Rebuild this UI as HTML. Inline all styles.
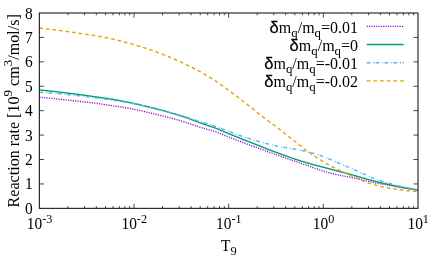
<!DOCTYPE html>
<html><head><meta charset="utf-8"><title>plot</title>
<style>html,body{margin:0;padding:0;background:#fff;width:436px;height:262px;overflow:hidden;font-family:"Liberation Serif",serif}</style>
</head><body>
<svg width="436" height="262" viewBox="0 0 436 262" style="position:absolute;left:0;top:0">
<rect width="436" height="262" fill="#fff"/>
<path d="M39.35 183.93h4.6 M418.0 183.93h-4.6 M39.35 159.51h4.6 M418.0 159.51h-4.6 M39.35 135.09h4.6 M418.0 135.09h-4.6 M39.35 110.67h4.6 M418.0 110.67h-4.6 M39.35 86.26h4.6 M418.0 86.26h-4.6 M39.35 61.84h4.6 M418.0 61.84h-4.6 M39.35 37.42h4.6 M418.0 37.42h-4.6 M67.85 208.35v-2.3 M67.85 13.0v2.3 M84.52 208.35v-2.3 M84.52 13.0v2.3 M96.34 208.35v-2.3 M96.34 13.0v2.3 M105.52 208.35v-2.3 M105.52 13.0v2.3 M113.01 208.35v-2.3 M113.01 13.0v2.3 M119.35 208.35v-2.3 M119.35 13.0v2.3 M124.84 208.35v-2.3 M124.84 13.0v2.3 M129.68 208.35v-2.3 M129.68 13.0v2.3 M134.01 208.35v-4.6 M134.01 13.0v4.6 M162.51 208.35v-2.3 M162.51 13.0v2.3 M179.18 208.35v-2.3 M179.18 13.0v2.3 M191.01 208.35v-2.3 M191.01 13.0v2.3 M200.18 208.35v-2.3 M200.18 13.0v2.3 M207.67 208.35v-2.3 M207.67 13.0v2.3 M214.01 208.35v-2.3 M214.01 13.0v2.3 M219.50 208.35v-2.3 M219.50 13.0v2.3 M224.34 208.35v-2.3 M224.34 13.0v2.3 M228.67 208.35v-4.6 M228.67 13.0v4.6 M257.17 208.35v-2.3 M257.17 13.0v2.3 M273.84 208.35v-2.3 M273.84 13.0v2.3 M285.67 208.35v-2.3 M285.67 13.0v2.3 M294.84 208.35v-2.3 M294.84 13.0v2.3 M302.34 208.35v-2.3 M302.34 13.0v2.3 M308.67 208.35v-2.3 M308.67 13.0v2.3 M314.16 208.35v-2.3 M314.16 13.0v2.3 M319.01 208.35v-2.3 M319.01 13.0v2.3 M323.34 208.35v-4.6 M323.34 13.0v4.6 M351.83 208.35v-2.3 M351.83 13.0v2.3 M368.50 208.35v-2.3 M368.50 13.0v2.3 M380.33 208.35v-2.3 M380.33 13.0v2.3 M389.50 208.35v-2.3 M389.50 13.0v2.3 M397.00 208.35v-2.3 M397.00 13.0v2.3 M403.34 208.35v-2.3 M403.34 13.0v2.3 M408.83 208.35v-2.3 M408.83 13.0v2.3 M413.67 208.35v-2.3 M413.67 13.0v2.3" stroke="#1a1a1a" stroke-width="0.8" fill="none"/>
<path d="M39.35 97.18 L39.82 97.22 L40.30 97.27 L40.44 97.28 M41.74 97.41 L42.19 97.45 L42.67 97.50 L42.83 97.52 M44.13 97.64 L44.56 97.69 L45.04 97.73 L45.22 97.75 M46.52 97.88 L46.93 97.92 L47.41 97.97 L47.61 97.99 M48.90 98.12 L49.30 98.16 L49.78 98.21 L50.00 98.23 M51.29 98.36 L51.67 98.40 L52.15 98.45 L52.39 98.48 M53.68 98.61 L54.04 98.65 L54.51 98.70 L54.77 98.72 M56.07 98.86 L56.41 98.89 L56.88 98.94 L57.16 98.97 M58.45 99.11 L58.78 99.14 L59.25 99.19 L59.55 99.22 M60.84 99.36 L61.15 99.39 L61.62 99.44 L61.93 99.48 M63.23 99.62 L63.52 99.65 L63.99 99.70 L64.32 99.73 M65.61 99.87 L65.89 99.90 L66.36 99.95 L66.71 99.99 M68.00 100.13 L68.26 100.16 L68.73 100.21 L69.09 100.25 M70.38 100.39 L70.63 100.42 L71.10 100.47 L71.48 100.51 M72.77 100.65 L73.00 100.68 L73.47 100.73 L73.86 100.77 M75.15 100.92 L75.37 100.94 L75.84 100.99 L76.25 101.04 M77.54 101.18 L77.74 101.20 L78.21 101.26 L78.63 101.30 M79.93 101.45 L80.11 101.47 L80.58 101.52 L81.02 101.57 M82.31 101.71 L82.48 101.73 L82.95 101.78 L83.40 101.84 M84.70 101.98 L84.84 102.00 L85.32 102.05 L85.79 102.10 M87.08 102.25 L87.21 102.26 L87.69 102.32 L88.16 102.37 L88.17 102.37 M89.47 102.52 L89.58 102.53 L90.06 102.59 L90.53 102.65 L90.56 102.65 M91.85 102.80 L91.95 102.81 L92.43 102.87 L92.90 102.93 L92.94 102.93 M94.23 103.09 L94.32 103.10 L94.80 103.16 L95.27 103.22 L95.32 103.23 M96.61 103.40 L96.69 103.41 L97.17 103.47 L97.64 103.53 L97.70 103.54 M98.99 103.72 L99.06 103.73 L99.54 103.80 L100.01 103.87 L100.08 103.88 M101.36 104.07 L101.43 104.08 L101.91 104.15 L102.38 104.22 L102.45 104.23 M103.74 104.43 L103.80 104.44 L104.27 104.51 L104.75 104.59 L104.82 104.60 M106.11 104.79 L106.17 104.80 L106.64 104.87 L107.12 104.94 L107.20 104.95 M108.48 105.14 L108.54 105.15 L109.01 105.22 L109.49 105.29 L109.57 105.30 M110.86 105.49 L110.91 105.50 L111.38 105.57 L111.86 105.64 L111.95 105.65 M113.23 105.84 L113.28 105.85 L113.75 105.91 L114.23 105.98 L114.32 106.00 M115.61 106.19 L115.65 106.19 L116.12 106.26 L116.60 106.33 L116.70 106.35 M117.98 106.54 L118.02 106.54 L118.49 106.61 L118.97 106.69 L119.07 106.70 M120.35 106.90 L120.39 106.90 L120.86 106.97 L121.34 107.05 L121.44 107.06 M122.73 107.27 L122.76 107.27 L123.23 107.35 L123.71 107.42 L123.81 107.44 M125.10 107.65 L125.13 107.65 L125.60 107.73 L126.07 107.81 L126.18 107.83 M127.46 108.05 L127.50 108.06 L127.97 108.14 L128.44 108.22 L128.55 108.24 M129.82 108.47 L129.87 108.48 L130.34 108.56 L130.81 108.65 L130.91 108.67 M132.18 108.91 L132.24 108.92 L132.71 109.01 L133.18 109.10 L133.26 109.12 M134.54 109.38 L134.60 109.39 L135.08 109.49 L135.55 109.58 L135.62 109.60 M136.89 109.86 L136.97 109.88 L137.45 109.98 L137.92 110.08 L137.96 110.09 M139.23 110.37 L139.34 110.39 L139.82 110.49 L140.29 110.60 L140.31 110.60 M141.58 110.89 L141.71 110.92 L142.19 111.02 L142.65 111.13 M143.92 111.42 L144.08 111.46 L144.56 111.57 L144.99 111.67 M146.26 111.96 L146.45 112.01 L146.93 112.12 L147.33 112.22 M148.59 112.52 L148.82 112.57 L149.30 112.69 L149.66 112.77 M150.92 113.08 L151.19 113.14 L151.67 113.25 L151.99 113.33 M153.26 113.64 L153.56 113.71 L154.03 113.83 L154.33 113.90 M155.59 114.20 L155.93 114.28 L156.40 114.40 L156.66 114.46 M157.92 114.77 L158.30 114.86 L158.77 114.97 L158.99 115.03 M160.26 115.34 L160.67 115.44 L161.14 115.55 L161.32 115.60 M162.58 115.91 L163.04 116.03 L163.51 116.14 L163.65 116.18 M164.91 116.50 L164.93 116.50 L165.41 116.62 L165.88 116.74 L165.98 116.77 M167.24 117.09 L167.30 117.11 L167.78 117.23 L168.25 117.35 L168.30 117.37 M169.56 117.69 L169.67 117.72 L170.15 117.85 L170.62 117.97 L170.62 117.97 M171.88 118.31 L172.04 118.35 L172.52 118.48 L172.94 118.60 M174.20 118.94 L174.41 119.00 L174.89 119.13 L175.26 119.23 M176.51 119.58 L176.78 119.66 L177.26 119.79 L177.57 119.88 M178.82 120.24 L179.15 120.34 L179.63 120.47 L179.87 120.55 M181.12 120.91 L181.52 121.04 L182.00 121.18 L182.17 121.24 M183.41 121.63 L183.42 121.63 L183.89 121.78 L184.36 121.93 L184.46 121.96 M185.69 122.37 L185.79 122.40 L186.26 122.56 L186.73 122.72 L186.74 122.72 M187.97 123.14 L188.16 123.20 L188.63 123.37 L189.01 123.50 M190.24 123.92 L190.53 124.02 L191.00 124.19 L191.28 124.28 M192.50 124.71 L192.90 124.84 L193.37 125.01 L193.54 125.07 M194.77 125.49 L194.79 125.49 L195.26 125.65 L195.74 125.81 L195.82 125.84 M197.05 126.25 L197.16 126.29 L197.63 126.44 L198.09 126.59 M199.33 126.99 L199.53 127.05 L200.00 127.20 L200.38 127.32 M201.63 127.69 L201.90 127.77 L202.37 127.91 L202.68 128.00 M203.93 128.35 L204.27 128.45 L204.74 128.58 L204.99 128.65 M206.25 128.99 L206.64 129.10 L207.11 129.23 L207.31 129.28 M208.56 129.63 L209.01 129.75 L209.48 129.89 L209.62 129.93 M210.87 130.28 L210.90 130.29 L211.38 130.43 L211.85 130.57 L211.93 130.59 M213.17 130.97 L213.27 131.00 L213.75 131.15 L214.22 131.30 M215.45 131.71 L215.64 131.78 L216.12 131.94 L216.49 132.08 M217.71 132.54 L218.01 132.66 L218.49 132.85 L218.73 132.95 M219.92 133.45 L220.38 133.65 L220.86 133.85 L220.93 133.89 M222.13 134.41 L222.28 134.47 L222.75 134.68 L223.14 134.84 M224.33 135.35 L224.65 135.48 L225.12 135.67 L225.35 135.76 M226.56 136.24 L227.02 136.42 L227.49 136.61 L227.58 136.65 M228.79 137.12 L228.91 137.17 L229.39 137.35 L229.82 137.52 M231.03 137.99 L231.28 138.09 L231.76 138.27 L232.06 138.39 M233.27 138.86 L233.65 139.00 L234.12 139.19 L234.30 139.25 M235.51 139.71 L235.55 139.73 L236.02 139.91 L236.49 140.09 L236.54 140.11 M237.75 140.57 L237.92 140.63 L238.39 140.81 L238.78 140.96 M240.00 141.42 L240.29 141.52 L240.76 141.70 L241.03 141.80 M242.25 142.26 L242.66 142.41 L243.13 142.59 L243.28 142.65 M244.49 143.10 L244.55 143.12 L245.02 143.30 L245.50 143.48 L245.53 143.49 M246.74 143.94 L246.92 144.01 L247.39 144.18 L247.77 144.32 M248.99 144.78 L249.29 144.89 L249.76 145.06 L250.02 145.16 M251.24 145.61 L251.66 145.77 L252.13 145.94 L252.27 146.00 M253.49 146.45 L253.56 146.47 L254.03 146.64 L254.50 146.82 L254.52 146.83 M255.74 147.28 L255.92 147.34 L256.40 147.52 L256.78 147.66 M258.00 148.10 L258.29 148.21 L258.77 148.39 L259.03 148.48 M260.25 148.93 L260.66 149.08 L261.14 149.25 L261.28 149.30 M262.51 149.75 L262.56 149.77 L263.03 149.94 L263.51 150.11 L263.54 150.12 M264.76 150.57 L264.93 150.63 L265.40 150.80 L265.80 150.94 M267.02 151.38 L267.30 151.48 L267.77 151.65 L268.05 151.76 M269.28 152.20 L269.67 152.34 L270.14 152.51 L270.31 152.57 M271.54 153.01 L271.56 153.02 L272.04 153.19 L272.51 153.35 L272.57 153.38 M273.80 153.81 L273.93 153.86 L274.41 154.03 L274.83 154.18 M276.06 154.62 L276.30 154.71 L276.78 154.88 L277.09 154.99 M278.32 155.42 L278.67 155.55 L279.15 155.72 L279.36 155.79 M280.58 156.23 L281.04 156.39 L281.52 156.56 L281.62 156.60 M282.84 157.03 L282.94 157.06 L283.41 157.23 L283.88 157.40 M285.11 157.83 L285.31 157.90 L285.78 158.07 L286.14 158.19 M287.37 158.62 L287.68 158.73 L288.15 158.90 L288.41 158.99 M289.63 159.42 L290.05 159.56 L290.52 159.73 L290.67 159.78 M291.90 160.21 L291.94 160.22 L292.42 160.39 L292.89 160.55 L292.94 160.57 M294.17 161.00 L294.31 161.05 L294.78 161.21 L295.21 161.36 M296.44 161.78 L296.68 161.87 L297.15 162.03 L297.48 162.14 M298.70 162.56 L299.05 162.68 L299.52 162.84 L299.75 162.92 M300.98 163.34 L301.42 163.49 L301.89 163.65 L302.02 163.70 M303.25 164.11 L303.32 164.14 L303.79 164.30 L304.26 164.46 L304.29 164.47 M305.52 164.89 L305.68 164.95 L306.16 165.12 L306.56 165.25 M307.78 165.69 L308.05 165.78 L308.53 165.95 L308.82 166.05 M310.05 166.49 L310.42 166.62 L310.90 166.79 L311.08 166.86 M312.31 167.29 L312.32 167.30 L312.79 167.47 L313.27 167.64 L313.34 167.66 M314.57 168.10 L314.69 168.14 L315.16 168.31 L315.60 168.46 M316.83 168.89 L317.06 168.97 L317.53 169.14 L317.87 169.25 M319.10 169.68 L319.43 169.79 L319.90 169.95 L320.14 170.03 M321.37 170.44 L321.80 170.58 L322.27 170.74 L322.42 170.78 M323.66 171.18 L323.69 171.19 L324.17 171.34 L324.64 171.49 L324.71 171.51 M325.95 171.89 L326.06 171.92 L326.54 172.06 L327.01 172.20 M328.25 172.56 L328.43 172.61 L328.91 172.74 L329.31 172.85 M330.57 173.19 L330.80 173.25 L331.28 173.37 L331.64 173.46 M332.90 173.77 L333.17 173.83 L333.64 173.94 L333.97 174.02 M335.24 174.31 L335.54 174.37 L336.01 174.48 L336.31 174.54 M337.59 174.81 L337.91 174.88 L338.38 174.98 L338.66 175.03 M339.94 175.29 L340.28 175.36 L340.75 175.45 L341.02 175.50 M342.29 175.75 L342.65 175.82 L343.12 175.91 L343.37 175.96 M344.65 176.20 L345.02 176.27 L345.49 176.36 L345.73 176.40 M347.01 176.64 L347.39 176.71 L347.86 176.80 L348.09 176.84 M349.37 177.08 L349.76 177.15 L350.23 177.24 L350.45 177.28 M351.73 177.53 L352.13 177.60 L352.60 177.70 L352.81 177.74 M354.08 177.99 L354.50 178.07 L354.97 178.17 L355.16 178.21 M356.43 178.47 L356.87 178.56 L357.34 178.67 L357.51 178.70 M358.78 178.98 L359.24 179.09 L359.71 179.19 L359.85 179.23 M361.12 179.52 L361.13 179.53 L361.61 179.64 L362.08 179.75 L362.19 179.78 M363.45 180.08 L363.50 180.10 L363.97 180.21 L364.45 180.33 L364.52 180.34 M365.78 180.65 L365.87 180.68 L366.34 180.79 L366.82 180.91 L366.85 180.92 M368.11 181.22 L368.24 181.26 L368.71 181.37 L369.18 181.48 M370.45 181.79 L370.61 181.83 L371.08 181.94 L371.52 182.04 M372.78 182.33 L372.98 182.37 L373.45 182.48 L373.86 182.57 M375.13 182.84 L375.35 182.89 L375.82 182.99 L376.20 183.06 M377.48 183.32 L377.72 183.36 L378.19 183.45 L378.56 183.52 M379.84 183.74 L380.09 183.78 L380.56 183.86 L380.93 183.92 M382.21 184.13 L382.46 184.17 L382.93 184.25 L383.30 184.31 M384.58 184.51 L384.83 184.55 L385.30 184.62 L385.67 184.68 M386.95 184.89 L387.20 184.92 L387.67 185.00 L388.04 185.06 M389.32 185.28 L389.57 185.32 L390.04 185.41 L390.40 185.47 M391.68 185.71 L391.94 185.76 L392.41 185.85 L392.76 185.92 M394.03 186.17 L394.30 186.23 L394.78 186.32 L395.11 186.39 M396.39 186.64 L396.67 186.70 L397.15 186.80 L397.47 186.86 M398.74 187.11 L399.04 187.17 L399.52 187.26 L399.82 187.32 M401.10 187.56 L401.41 187.61 L401.89 187.70 L402.18 187.75 M403.47 187.96 L403.78 188.01 L404.26 188.09 L404.55 188.14 M405.83 188.35 L406.15 188.40 L406.63 188.47 L406.92 188.52 M408.21 188.72 L408.52 188.77 L409.00 188.84 L409.29 188.89 M410.58 189.08 L410.89 189.12 L411.37 189.19 L411.67 189.24 M412.95 189.42 L413.26 189.46 L413.73 189.53 L414.04 189.57 M415.33 189.75 L415.63 189.79 L416.10 189.85 L416.42 189.89 M417.71 190.05 L418.00 190.09" stroke="#9400d3" stroke-width="1.4" fill="none"/>
<path d="M39.35 89.98 L39.82 90.02 L40.30 90.07 L40.77 90.11 L41.25 90.16 L41.72 90.21 L42.19 90.25 L42.67 90.30 L43.14 90.35 L43.62 90.40 L44.09 90.44 L44.56 90.49 L45.04 90.54 L45.51 90.59 L45.98 90.64 L46.46 90.69 L46.93 90.74 L47.41 90.79 L47.88 90.84 L48.35 90.89 L48.83 90.94 L49.30 90.99 L49.78 91.04 L50.25 91.09 L50.72 91.14 L51.20 91.19 L51.67 91.24 L52.15 91.30 L52.62 91.35 L53.09 91.40 L53.57 91.45 L54.04 91.51 L54.51 91.56 L54.99 91.61 L55.46 91.67 L55.94 91.72 L56.41 91.77 L56.88 91.83 L57.36 91.88 L57.83 91.94 L58.31 91.99 L58.78 92.04 L59.25 92.10 L59.73 92.15 L60.20 92.21 L60.68 92.26 L61.15 92.32 L61.62 92.38 L62.10 92.43 L62.57 92.49 L63.05 92.54 L63.52 92.60 L63.99 92.66 L64.47 92.71 L64.94 92.77 L65.41 92.83 L65.89 92.88 L66.36 92.94 L66.84 93.00 L67.31 93.06 L67.78 93.11 L68.26 93.17 L68.73 93.23 L69.21 93.29 L69.68 93.35 L70.15 93.41 L70.63 93.46 L71.10 93.52 L71.58 93.58 L72.05 93.64 L72.52 93.70 L73.00 93.76 L73.47 93.82 L73.95 93.88 L74.42 93.94 L74.89 94.00 L75.37 94.06 L75.84 94.12 L76.31 94.18 L76.79 94.24 L77.26 94.30 L77.74 94.36 L78.21 94.42 L78.68 94.48 L79.16 94.54 L79.63 94.60 L80.11 94.66 L80.58 94.72 L81.05 94.78 L81.53 94.85 L82.00 94.91 L82.48 94.97 L82.95 95.04 L83.42 95.10 L83.90 95.17 L84.37 95.23 L84.84 95.30 L85.32 95.37 L85.79 95.43 L86.27 95.50 L86.74 95.57 L87.21 95.64 L87.69 95.71 L88.16 95.78 L88.64 95.84 L89.11 95.91 L89.58 95.98 L90.06 96.05 L90.53 96.12 L91.01 96.19 L91.48 96.26 L91.95 96.32 L92.43 96.39 L92.90 96.46 L93.38 96.53 L93.85 96.60 L94.32 96.66 L94.80 96.73 L95.27 96.80 L95.74 96.86 L96.22 96.93 L96.69 97.00 L97.17 97.06 L97.64 97.12 L98.11 97.19 L98.59 97.25 L99.06 97.31 L99.54 97.37 L100.01 97.44 L100.48 97.50 L100.96 97.56 L101.43 97.62 L101.91 97.69 L102.38 97.75 L102.85 97.82 L103.33 97.88 L103.80 97.95 L104.27 98.02 L104.75 98.09 L105.22 98.16 L105.70 98.23 L106.17 98.30 L106.64 98.38 L107.12 98.45 L107.59 98.52 L108.07 98.60 L108.54 98.67 L109.01 98.75 L109.49 98.83 L109.96 98.90 L110.44 98.98 L110.91 99.06 L111.38 99.14 L111.86 99.22 L112.33 99.30 L112.81 99.38 L113.28 99.46 L113.75 99.54 L114.23 99.62 L114.70 99.70 L115.17 99.78 L115.65 99.87 L116.12 99.95 L116.60 100.03 L117.07 100.12 L117.54 100.20 L118.02 100.29 L118.49 100.37 L118.97 100.46 L119.44 100.55 L119.91 100.63 L120.39 100.72 L120.86 100.81 L121.34 100.90 L121.81 100.99 L122.28 101.08 L122.76 101.17 L123.23 101.26 L123.71 101.35 L124.18 101.44 L124.65 101.53 L125.13 101.63 L125.60 101.72 L126.07 101.81 L126.55 101.91 L127.02 102.00 L127.50 102.09 L127.97 102.19 L128.44 102.28 L128.92 102.38 L129.39 102.48 L129.87 102.57 L130.34 102.67 L130.81 102.77 L131.29 102.87 L131.76 102.97 L132.24 103.07 L132.71 103.17 L133.18 103.27 L133.66 103.37 L134.13 103.47 L134.60 103.58 L135.08 103.68 L135.55 103.79 L136.03 103.89 L136.50 104.00 L136.97 104.11 L137.45 104.22 L137.92 104.33 L138.40 104.43 L138.87 104.54 L139.34 104.65 L139.82 104.77 L140.29 104.88 L140.77 104.99 L141.24 105.10 L141.71 105.21 L142.19 105.33 L142.66 105.44 L143.14 105.56 L143.61 105.67 L144.08 105.79 L144.56 105.90 L145.03 106.02 L145.50 106.14 L145.98 106.25 L146.45 106.37 L146.93 106.49 L147.40 106.61 L147.87 106.72 L148.35 106.84 L148.82 106.96 L149.30 107.08 L149.77 107.20 L150.24 107.32 L150.72 107.44 L151.19 107.56 L151.67 107.68 L152.14 107.81 L152.61 107.93 L153.09 108.05 L153.56 108.17 L154.03 108.29 L154.51 108.41 L154.98 108.54 L155.46 108.66 L155.93 108.78 L156.40 108.90 L156.88 109.03 L157.35 109.15 L157.83 109.28 L158.30 109.40 L158.77 109.52 L159.25 109.65 L159.72 109.77 L160.20 109.90 L160.67 110.02 L161.14 110.15 L161.62 110.28 L162.09 110.40 L162.57 110.53 L163.04 110.66 L163.51 110.79 L163.99 110.91 L164.46 111.04 L164.93 111.17 L165.41 111.30 L165.88 111.43 L166.36 111.56 L166.83 111.69 L167.30 111.83 L167.78 111.96 L168.25 112.09 L168.73 112.22 L169.20 112.36 L169.67 112.49 L170.15 112.63 L170.62 112.76 L171.10 112.90 L171.57 113.03 L172.04 113.17 L172.52 113.31 L172.99 113.45 L173.47 113.59 L173.94 113.73 L174.41 113.87 L174.89 114.01 L175.36 114.15 L175.83 114.29 L176.31 114.44 L176.78 114.58 L177.26 114.72 L177.73 114.87 L178.20 115.01 L178.68 115.16 L179.15 115.31 L179.63 115.46 L180.10 115.61 L180.57 115.75 L181.05 115.91 L181.52 116.06 L182.00 116.21 L182.47 116.37 L182.94 116.53 L183.42 116.69 L183.89 116.85 L184.36 117.01 L184.84 117.17 L185.31 117.33 L185.79 117.50 L186.26 117.66 L186.73 117.83 L187.21 118.00 L187.68 118.17 L188.16 118.34 L188.63 118.51 L189.10 118.68 L189.58 118.85 L190.05 119.03 L190.53 119.20 L191.00 119.37 L191.47 119.55 L191.95 119.72 L192.42 119.90 L192.90 120.07 L193.37 120.25 L193.84 120.43 L194.32 120.60 L194.79 120.78 L195.26 120.96 L195.74 121.13 L196.21 121.31 L196.69 121.49 L197.16 121.66 L197.63 121.84 L198.11 122.02 L198.58 122.19 L199.06 122.37 L199.53 122.54 L200.00 122.72 L200.48 122.89 L200.95 123.07 L201.43 123.24 L201.90 123.41 L202.37 123.59 L202.85 123.76 L203.32 123.93 L203.79 124.10 L204.27 124.27 L204.74 124.43 L205.22 124.60 L205.69 124.77 L206.16 124.93 L206.64 125.09 L207.11 125.25 L207.59 125.41 L208.06 125.57 L208.53 125.73 L209.01 125.88 L209.48 126.04 L209.96 126.20 L210.43 126.35 L210.90 126.51 L211.38 126.67 L211.85 126.83 L212.33 126.99 L212.80 127.15 L213.27 127.31 L213.75 127.48 L214.22 127.65 L214.69 127.82 L215.17 127.99 L215.64 128.17 L216.12 128.34 L216.59 128.53 L217.06 128.72 L217.54 128.91 L218.01 129.10 L218.49 129.30 L218.96 129.50 L219.43 129.70 L219.91 129.91 L220.38 130.12 L220.86 130.32 L221.33 130.53 L221.80 130.74 L222.28 130.95 L222.75 131.15 L223.23 131.36 L223.70 131.57 L224.17 131.77 L224.65 131.97 L225.12 132.17 L225.59 132.36 L226.07 132.56 L226.54 132.75 L227.02 132.95 L227.49 133.14 L227.96 133.34 L228.44 133.53 L228.91 133.73 L229.39 133.92 L229.86 134.11 L230.33 134.30 L230.81 134.50 L231.28 134.69 L231.76 134.88 L232.23 135.07 L232.70 135.26 L233.18 135.45 L233.65 135.65 L234.12 135.84 L234.60 136.03 L235.07 136.22 L235.55 136.41 L236.02 136.60 L236.49 136.79 L236.97 136.98 L237.44 137.16 L237.92 137.35 L238.39 137.54 L238.86 137.73 L239.34 137.92 L239.81 138.11 L240.29 138.30 L240.76 138.48 L241.23 138.67 L241.71 138.86 L242.18 139.05 L242.66 139.24 L243.13 139.42 L243.60 139.61 L244.08 139.80 L244.55 139.99 L245.02 140.17 L245.50 140.36 L245.97 140.55 L246.45 140.74 L246.92 140.92 L247.39 141.11 L247.87 141.30 L248.34 141.49 L248.82 141.67 L249.29 141.86 L249.76 142.05 L250.24 142.24 L250.71 142.42 L251.19 142.61 L251.66 142.80 L252.13 142.99 L252.61 143.18 L253.08 143.36 L253.56 143.55 L254.03 143.74 L254.50 143.93 L254.98 144.12 L255.45 144.31 L255.92 144.50 L256.40 144.69 L256.87 144.88 L257.35 145.06 L257.82 145.25 L258.29 145.44 L258.77 145.63 L259.24 145.82 L259.72 146.01 L260.19 146.20 L260.66 146.39 L261.14 146.57 L261.61 146.76 L262.09 146.95 L262.56 147.14 L263.03 147.33 L263.51 147.51 L263.98 147.70 L264.45 147.89 L264.93 148.07 L265.40 148.26 L265.88 148.45 L266.35 148.63 L266.82 148.82 L267.30 149.00 L267.77 149.18 L268.25 149.37 L268.72 149.55 L269.19 149.73 L269.67 149.92 L270.14 150.10 L270.62 150.28 L271.09 150.46 L271.56 150.64 L272.04 150.82 L272.51 151.00 L272.99 151.18 L273.46 151.36 L273.93 151.53 L274.41 151.71 L274.88 151.89 L275.35 152.06 L275.83 152.24 L276.30 152.41 L276.78 152.58 L277.25 152.76 L277.72 152.93 L278.20 153.11 L278.67 153.28 L279.15 153.45 L279.62 153.63 L280.09 153.80 L280.57 153.97 L281.04 154.15 L281.52 154.32 L281.99 154.49 L282.46 154.66 L282.94 154.83 L283.41 155.01 L283.88 155.18 L284.36 155.35 L284.83 155.52 L285.31 155.69 L285.78 155.86 L286.25 156.03 L286.73 156.20 L287.20 156.37 L287.68 156.53 L288.15 156.70 L288.62 156.87 L289.10 157.04 L289.57 157.20 L290.05 157.37 L290.52 157.54 L290.99 157.70 L291.47 157.86 L291.94 158.03 L292.42 158.19 L292.89 158.35 L293.36 158.52 L293.84 158.68 L294.31 158.84 L294.78 159.00 L295.26 159.16 L295.73 159.32 L296.21 159.47 L296.68 159.63 L297.15 159.79 L297.63 159.94 L298.10 160.10 L298.58 160.25 L299.05 160.41 L299.52 160.56 L300.00 160.71 L300.47 160.86 L300.95 161.01 L301.42 161.16 L301.89 161.31 L302.37 161.45 L302.84 161.60 L303.32 161.74 L303.79 161.89 L304.26 162.03 L304.74 162.17 L305.21 162.31 L305.68 162.45 L306.16 162.59 L306.63 162.73 L307.11 162.87 L307.58 163.00 L308.05 163.14 L308.53 163.27 L309.00 163.41 L309.48 163.54 L309.95 163.67 L310.42 163.81 L310.90 163.94 L311.37 164.07 L311.85 164.20 L312.32 164.33 L312.79 164.46 L313.27 164.58 L313.74 164.71 L314.21 164.84 L314.69 164.97 L315.16 165.09 L315.64 165.22 L316.11 165.34 L316.58 165.47 L317.06 165.59 L317.53 165.72 L318.01 165.84 L318.48 165.97 L318.95 166.09 L319.43 166.22 L319.90 166.34 L320.38 166.46 L320.85 166.59 L321.32 166.71 L321.80 166.84 L322.27 166.96 L322.75 167.08 L323.22 167.21 L323.69 167.33 L324.17 167.45 L324.64 167.58 L325.11 167.70 L325.59 167.83 L326.06 167.95 L326.54 168.08 L327.01 168.20 L327.48 168.33 L327.96 168.45 L328.43 168.58 L328.91 168.71 L329.38 168.83 L329.85 168.96 L330.33 169.09 L330.80 169.22 L331.28 169.34 L331.75 169.47 L332.22 169.60 L332.70 169.73 L333.17 169.85 L333.64 169.98 L334.12 170.11 L334.59 170.23 L335.07 170.36 L335.54 170.49 L336.01 170.61 L336.49 170.74 L336.96 170.87 L337.44 170.99 L337.91 171.12 L338.38 171.24 L338.86 171.37 L339.33 171.50 L339.81 171.62 L340.28 171.75 L340.75 171.88 L341.23 172.00 L341.70 172.13 L342.18 172.25 L342.65 172.38 L343.12 172.51 L343.60 172.63 L344.07 172.76 L344.54 172.89 L345.02 173.01 L345.49 173.14 L345.97 173.27 L346.44 173.39 L346.91 173.52 L347.39 173.65 L347.86 173.77 L348.34 173.90 L348.81 174.03 L349.28 174.15 L349.76 174.28 L350.23 174.41 L350.71 174.54 L351.18 174.66 L351.65 174.79 L352.13 174.92 L352.60 175.05 L353.08 175.18 L353.55 175.31 L354.02 175.43 L354.50 175.56 L354.97 175.69 L355.44 175.82 L355.92 175.95 L356.39 176.08 L356.87 176.21 L357.34 176.35 L357.81 176.48 L358.29 176.61 L358.76 176.75 L359.24 176.88 L359.71 177.02 L360.18 177.15 L360.66 177.29 L361.13 177.42 L361.61 177.56 L362.08 177.69 L362.55 177.83 L363.03 177.97 L363.50 178.10 L363.97 178.24 L364.45 178.37 L364.92 178.51 L365.40 178.65 L365.87 178.78 L366.34 178.92 L366.82 179.05 L367.29 179.19 L367.77 179.32 L368.24 179.45 L368.71 179.59 L369.19 179.72 L369.66 179.85 L370.14 179.98 L370.61 180.12 L371.08 180.25 L371.56 180.38 L372.03 180.51 L372.51 180.63 L372.98 180.76 L373.45 180.89 L373.93 181.01 L374.40 181.14 L374.87 181.26 L375.35 181.38 L375.82 181.50 L376.30 181.62 L376.77 181.74 L377.24 181.86 L377.72 181.98 L378.19 182.09 L378.67 182.21 L379.14 182.33 L379.61 182.44 L380.09 182.56 L380.56 182.67 L381.04 182.79 L381.51 182.90 L381.98 183.01 L382.46 183.12 L382.93 183.24 L383.40 183.35 L383.88 183.46 L384.35 183.57 L384.83 183.68 L385.30 183.79 L385.77 183.90 L386.25 184.01 L386.72 184.11 L387.20 184.22 L387.67 184.33 L388.14 184.43 L388.62 184.54 L389.09 184.64 L389.57 184.75 L390.04 184.85 L390.51 184.96 L390.99 185.06 L391.46 185.16 L391.94 185.26 L392.41 185.36 L392.88 185.46 L393.36 185.56 L393.83 185.66 L394.30 185.76 L394.78 185.85 L395.25 185.95 L395.73 186.05 L396.20 186.14 L396.67 186.24 L397.15 186.33 L397.62 186.42 L398.10 186.52 L398.57 186.61 L399.04 186.70 L399.52 186.79 L399.99 186.88 L400.47 186.97 L400.94 187.06 L401.41 187.15 L401.89 187.24 L402.36 187.33 L402.84 187.42 L403.31 187.51 L403.78 187.60 L404.26 187.68 L404.73 187.77 L405.20 187.86 L405.68 187.94 L406.15 188.03 L406.63 188.11 L407.10 188.20 L407.57 188.28 L408.05 188.36 L408.52 188.45 L409.00 188.53 L409.47 188.61 L409.94 188.69 L410.42 188.77 L410.89 188.85 L411.37 188.93 L411.84 189.01 L412.31 189.09 L412.79 189.17 L413.26 189.24 L413.73 189.32 L414.21 189.40 L414.68 189.47 L415.16 189.55 L415.63 189.62 L416.10 189.70 L416.58 189.77 L417.05 189.84 L417.53 189.91 L418.00 189.98" stroke="#009e73" stroke-width="1.4" fill="none"/>
<path d="M39.35 92.29 L39.82 92.31 L40.30 92.34 L40.77 92.37 L41.25 92.40 L41.72 92.43 L42.19 92.46 L42.67 92.49 L43.14 92.52 L43.24 92.53 M46.34 92.74 L46.46 92.75 L46.93 92.78 L47.23 92.81 M48.63 92.91 L48.83 92.92 L49.30 92.96 L49.78 93.00 L50.25 93.03 L50.72 93.07 L51.20 93.11 L51.67 93.14 L52.15 93.18 L52.52 93.21 M55.61 93.47 L55.94 93.50 L56.41 93.54 L56.50 93.54 M57.90 93.67 L58.31 93.70 L58.78 93.74 L59.25 93.79 L59.73 93.83 L60.20 93.87 L60.68 93.92 L61.15 93.96 L61.62 94.00 L61.78 94.02 M64.87 94.31 L64.94 94.32 L65.41 94.36 L65.76 94.40 M67.16 94.53 L67.31 94.55 L67.78 94.59 L68.26 94.64 L68.73 94.69 L69.21 94.73 L69.68 94.78 L70.15 94.83 L70.63 94.88 L71.04 94.92 M74.12 95.24 L74.42 95.27 L74.89 95.32 L75.02 95.33 M76.41 95.48 L76.79 95.52 L77.26 95.57 L77.74 95.62 L78.21 95.67 L78.68 95.72 L79.16 95.77 L79.63 95.82 L80.11 95.87 L80.29 95.89 M83.37 96.24 L83.42 96.24 L83.90 96.30 L84.26 96.35 M85.65 96.52 L85.79 96.54 L86.27 96.60 L86.74 96.66 L87.21 96.72 L87.69 96.78 L88.16 96.85 L88.64 96.91 L89.11 96.97 L89.52 97.03 M92.59 97.44 L92.90 97.48 L93.38 97.55 L93.48 97.56 M94.87 97.75 L95.27 97.80 L95.74 97.87 L96.22 97.93 L96.69 97.99 L97.17 98.06 L97.64 98.12 L98.11 98.18 L98.59 98.24 L98.73 98.26 M101.81 98.68 L101.91 98.69 L102.38 98.76 L102.70 98.80 M104.08 99.00 L104.27 99.03 L104.75 99.09 L105.22 99.16 L105.70 99.23 L106.17 99.30 L106.64 99.36 L107.12 99.43 L107.59 99.50 L107.95 99.55 M111.01 99.99 L111.38 100.04 L111.86 100.11 L111.90 100.12 M113.29 100.32 L113.75 100.39 L114.23 100.46 L114.70 100.53 L115.17 100.59 L115.65 100.66 L116.12 100.73 L116.60 100.81 L117.07 100.88 L117.15 100.89 M120.21 101.35 L120.39 101.38 L120.86 101.46 L121.10 101.49 M122.49 101.71 L122.76 101.76 L123.23 101.83 L123.71 101.91 L124.18 101.99 L124.65 102.07 L125.13 102.15 L125.60 102.23 L126.07 102.31 L126.33 102.35 M129.39 102.89 L129.39 102.89 L129.87 102.98 L130.27 103.05 M131.65 103.31 L131.76 103.33 L132.24 103.42 L132.71 103.52 L133.18 103.61 L133.66 103.70 L134.13 103.80 L134.60 103.90 L135.08 104.00 L135.47 104.08 M138.50 104.73 L138.87 104.81 L139.34 104.91 L139.38 104.92 M140.75 105.23 L140.77 105.23 L141.24 105.34 L141.71 105.45 L142.19 105.56 L142.66 105.67 L143.14 105.78 L143.61 105.89 L144.08 106.00 L144.55 106.11 M147.56 106.83 L147.87 106.90 L148.35 107.02 L148.44 107.04 M149.80 107.37 L150.24 107.48 L150.72 107.60 L151.19 107.71 L151.67 107.83 L152.14 107.95 L152.61 108.06 L153.09 108.18 L153.56 108.30 L153.58 108.30 M156.59 109.05 L156.88 109.12 L157.35 109.24 L157.47 109.27 M158.82 109.61 L159.25 109.72 L159.72 109.84 L160.20 109.96 L160.67 110.08 L161.14 110.21 L161.62 110.33 L162.09 110.45 L162.57 110.58 L162.60 110.59 M165.59 111.39 L165.88 111.46 L166.36 111.59 L166.46 111.62 M167.81 111.99 L168.25 112.11 L168.73 112.24 L169.20 112.37 L169.67 112.50 L170.15 112.63 L170.62 112.76 L171.10 112.89 L171.57 113.02 L171.57 113.02 M174.56 113.86 L174.89 113.95 L175.36 114.08 L175.43 114.10 M176.77 114.48 L176.78 114.48 L177.26 114.61 L177.73 114.75 L178.20 114.88 L178.68 115.01 L179.15 115.15 L179.63 115.28 L180.10 115.42 L180.53 115.54 M183.51 116.38 L183.89 116.49 L184.36 116.63 L184.37 116.63 M185.72 117.02 L185.79 117.04 L186.26 117.18 L186.73 117.32 L187.21 117.46 L187.68 117.60 L188.16 117.74 L188.63 117.88 L189.10 118.02 L189.46 118.13 M192.41 119.07 L192.42 119.08 L192.90 119.23 L193.26 119.36 M194.59 119.81 L194.79 119.87 L195.26 120.03 L195.74 120.19 L196.21 120.35 L196.69 120.51 L197.16 120.67 L197.63 120.83 L198.11 120.99 L198.29 121.05 M201.24 121.98 L201.43 122.04 L201.90 122.18 L202.10 122.24 M203.45 122.64 L203.79 122.74 L204.27 122.88 L204.74 123.02 L205.22 123.16 L205.69 123.30 L206.16 123.43 L206.64 123.57 L207.11 123.71 L207.19 123.74 M210.16 124.63 L210.43 124.72 L210.90 124.87 L211.02 124.91 M212.35 125.34 L212.80 125.49 L213.27 125.65 L213.75 125.82 L214.22 125.98 L214.69 126.14 L215.17 126.31 L215.64 126.48 L216.03 126.61 M218.95 127.66 L218.96 127.66 L219.43 127.83 L219.80 127.96 M221.11 128.45 L221.33 128.53 L221.80 128.71 L222.28 128.89 L222.75 129.07 L223.23 129.25 L223.70 129.43 L224.17 129.61 L224.65 129.79 L224.76 129.83 M227.65 130.94 L227.96 131.06 L228.44 131.24 L228.49 131.26 M229.80 131.77 L229.86 131.79 L230.33 131.97 L230.81 132.15 L231.28 132.34 L231.76 132.52 L232.23 132.70 L232.70 132.88 L233.18 133.06 L233.44 133.16 M236.34 134.25 L236.49 134.31 L236.97 134.48 L237.19 134.56 M238.50 135.04 L238.86 135.17 L239.34 135.34 L239.81 135.51 L240.29 135.68 L240.76 135.85 L241.23 136.01 L241.71 136.18 L242.18 136.34 M245.12 137.32 L245.50 137.44 L245.97 137.59 L245.98 137.59 M247.31 138.01 L247.39 138.04 L247.87 138.19 L248.34 138.33 L248.82 138.48 L249.29 138.63 L249.76 138.78 L250.24 138.92 L250.71 139.07 L251.04 139.17 M254.01 140.07 L254.03 140.08 L254.50 140.22 L254.87 140.33 M256.21 140.73 L256.40 140.79 L256.87 140.92 L257.35 141.06 L257.82 141.20 L258.29 141.34 L258.77 141.48 L259.24 141.61 L259.72 141.75 L259.95 141.82 M262.94 142.65 L263.03 142.68 L263.51 142.81 L263.81 142.89 M265.16 143.25 L265.40 143.32 L265.88 143.44 L266.35 143.57 L266.82 143.69 L267.30 143.82 L267.77 143.94 L268.25 144.06 L268.72 144.18 L268.93 144.23 M271.95 144.97 L272.04 144.99 L272.51 145.11 L272.82 145.18 M274.19 145.49 L274.41 145.55 L274.88 145.65 L275.35 145.76 L275.83 145.86 L276.30 145.97 L276.78 146.07 L277.25 146.17 L277.72 146.27 L278.00 146.32 M281.04 146.91 L281.04 146.91 L281.52 147.00 L281.93 147.07 M283.30 147.31 L283.41 147.33 L283.88 147.41 L284.36 147.49 L284.83 147.58 L285.31 147.65 L285.78 147.73 L286.25 147.81 L286.73 147.89 L287.15 147.96 M290.21 148.46 L290.52 148.51 L290.99 148.58 L291.10 148.60 M292.48 148.83 L292.89 148.89 L293.36 148.97 L293.84 149.05 L294.31 149.13 L294.78 149.21 L295.26 149.29 L295.73 149.38 L296.21 149.46 L296.32 149.48 M299.37 150.04 L299.52 150.07 L300.00 150.17 L300.26 150.22 M301.63 150.50 L301.89 150.55 L302.37 150.65 L302.84 150.75 L303.32 150.86 L303.79 150.97 L304.26 151.07 L304.74 151.18 L305.21 151.29 L305.43 151.35 M308.44 152.09 L308.53 152.12 L309.00 152.24 L309.31 152.32 M310.67 152.68 L310.90 152.75 L311.37 152.88 L311.85 153.01 L312.32 153.14 L312.79 153.28 L313.27 153.42 L313.74 153.55 L314.21 153.69 L314.42 153.75 M317.38 154.66 L317.53 154.71 L318.01 154.86 L318.24 154.93 M319.57 155.36 L319.90 155.47 L320.38 155.62 L320.85 155.79 L321.32 155.95 L321.80 156.12 L322.27 156.29 L322.75 156.46 L323.22 156.63 L323.25 156.65 M326.14 157.77 L326.54 157.93 L326.98 158.11 M328.27 158.64 L328.43 158.71 L328.91 158.91 L329.38 159.11 L329.85 159.31 L330.33 159.51 L330.80 159.71 L331.28 159.91 L331.75 160.11 L331.86 160.16 M334.72 161.37 L335.07 161.51 L335.54 161.71 L335.55 161.71 M336.84 162.25 L336.96 162.30 L337.44 162.50 L337.91 162.69 L338.38 162.89 L338.86 163.09 L339.33 163.29 L339.81 163.49 L340.28 163.69 L340.44 163.75 M343.29 164.97 L343.60 165.09 L344.07 165.30 L344.12 165.32 M345.41 165.87 L345.49 165.91 L345.97 166.11 L346.44 166.31 L346.91 166.52 L347.39 166.72 L347.86 166.93 L348.34 167.13 L348.81 167.34 L348.99 167.41 M351.84 168.65 L352.13 168.77 L352.60 168.98 L352.66 169.00 M353.95 169.56 L354.02 169.59 L354.50 169.80 L354.97 170.00 L355.44 170.21 L355.92 170.42 L356.39 170.62 L356.87 170.83 L357.34 171.03 L357.52 171.11 M360.36 172.37 L360.66 172.51 L361.13 172.73 L361.17 172.75 M362.45 173.33 L362.55 173.38 L363.03 173.60 L363.50 173.82 L363.97 174.05 L364.45 174.27 L364.92 174.49 L365.40 174.71 L365.87 174.93 L365.98 174.98 M368.79 176.28 L369.19 176.46 L369.61 176.65 M370.89 177.22 L371.08 177.30 L371.56 177.51 L372.03 177.71 L372.51 177.91 L372.98 178.11 L373.45 178.30 L373.93 178.49 L374.40 178.68 L374.49 178.72 M377.40 179.80 L377.72 179.91 L378.19 180.07 L378.25 180.09 M379.58 180.52 L379.61 180.53 L380.09 180.68 L380.56 180.83 L381.04 180.98 L381.51 181.12 L381.98 181.26 L382.46 181.40 L382.93 181.54 L383.32 181.65 M386.30 182.48 L386.72 182.60 L387.17 182.72 M388.52 183.09 L388.62 183.12 L389.09 183.25 L389.57 183.38 L390.04 183.51 L390.51 183.64 L390.99 183.78 L391.46 183.91 L391.94 184.04 L392.28 184.14 M395.26 184.97 L395.73 185.09 L396.13 185.20 M397.48 185.56 L397.62 185.60 L398.10 185.73 L398.57 185.85 L399.04 185.97 L399.52 186.09 L399.99 186.21 L400.47 186.32 L400.94 186.44 L401.27 186.52 M404.29 187.20 L404.73 187.29 L405.17 187.39 M406.54 187.68 L406.63 187.70 L407.10 187.79 L407.57 187.89 L408.05 187.99 L408.52 188.09 L409.00 188.18 L409.47 188.28 L409.94 188.37 L410.36 188.45 M413.41 189.02 L413.73 189.08 L414.21 189.16 L414.30 189.18 M415.68 189.41 L416.10 189.48 L416.58 189.56 L417.05 189.64 L417.53 189.71 L418.00 189.78" stroke="#56b4e9" stroke-width="1.4" fill="none"/>
<path d="M39.35 28.07 L39.82 28.12 L40.30 28.18 L40.77 28.23 L41.25 28.28 L41.72 28.33 L42.19 28.38 L42.67 28.44 L42.93 28.47 M45.91 28.81 L45.98 28.81 L46.46 28.87 L46.93 28.93 L47.41 28.98 L47.88 29.04 L48.35 29.09 L48.83 29.15 L49.30 29.21 L49.48 29.23 M52.46 29.59 L52.62 29.61 L53.09 29.67 L53.57 29.73 L54.04 29.79 L54.51 29.85 L54.99 29.91 L55.46 29.97 L55.94 30.03 L56.03 30.04 M59.01 30.42 L59.25 30.46 L59.73 30.52 L60.20 30.58 L60.68 30.64 L61.15 30.71 L61.62 30.77 L62.10 30.83 L62.57 30.89 L62.58 30.90 M65.55 31.30 L65.89 31.34 L66.36 31.41 L66.84 31.47 L67.31 31.54 L67.78 31.61 L68.26 31.67 L68.73 31.74 L69.12 31.79 M72.09 32.21 L72.52 32.27 L73.00 32.34 L73.47 32.41 L73.95 32.47 L74.42 32.54 L74.89 32.61 L75.37 32.68 L75.65 32.72 M78.62 33.15 L78.68 33.16 L79.16 33.23 L79.63 33.30 L80.11 33.37 L80.58 33.44 L81.05 33.51 L81.53 33.58 L82.00 33.65 L82.18 33.68 M85.15 34.12 L85.32 34.15 L85.79 34.22 L86.27 34.29 L86.74 34.37 L87.21 34.44 L87.69 34.51 L88.16 34.59 L88.64 34.66 L88.71 34.67 M91.67 35.14 L91.95 35.19 L92.43 35.26 L92.90 35.34 L93.38 35.42 L93.85 35.50 L94.32 35.58 L94.80 35.66 L95.22 35.73 M98.18 36.24 L98.59 36.31 L99.06 36.39 L99.54 36.48 L100.01 36.56 L100.48 36.65 L100.96 36.73 L101.43 36.82 L101.72 36.88 M104.67 37.44 L104.75 37.45 L105.22 37.55 L105.70 37.64 L106.17 37.73 L106.64 37.83 L107.12 37.93 L107.59 38.02 L108.07 38.12 L108.20 38.15 M111.13 38.78 L111.38 38.84 L111.86 38.95 L112.33 39.05 L112.81 39.16 L113.28 39.27 L113.75 39.38 L114.23 39.49 L114.64 39.59 M117.55 40.29 L118.02 40.40 L118.49 40.52 L118.97 40.64 L119.44 40.76 L119.91 40.87 L120.39 40.99 L120.86 41.11 L121.05 41.16 M123.95 41.91 L124.18 41.97 L124.65 42.10 L125.13 42.22 L125.60 42.35 L126.07 42.48 L126.55 42.60 L127.02 42.73 L127.43 42.84 M130.32 43.63 L130.34 43.63 L130.81 43.77 L131.29 43.90 L131.76 44.03 L132.24 44.16 L132.71 44.29 L133.18 44.43 L133.66 44.56 L133.79 44.60 M136.67 45.44 L136.97 45.53 L137.45 45.67 L137.92 45.81 L138.40 45.95 L138.87 46.09 L139.34 46.24 L139.82 46.38 L140.12 46.48 M142.98 47.37 L143.14 47.42 L143.61 47.57 L144.08 47.72 L144.56 47.87 L145.03 48.03 L145.50 48.18 L145.98 48.34 L146.41 48.48 M149.25 49.43 L149.30 49.44 L149.77 49.60 L150.24 49.76 L150.72 49.93 L151.19 50.09 L151.67 50.25 L152.14 50.42 L152.61 50.58 L152.66 50.60 M155.48 51.60 L155.93 51.76 L156.40 51.94 L156.88 52.11 L157.35 52.28 L157.83 52.46 L158.30 52.64 L158.77 52.81 L158.86 52.85 M161.66 53.92 L162.09 54.09 L162.57 54.27 L163.04 54.46 L163.51 54.65 L163.99 54.84 L164.46 55.03 L164.93 55.22 L165.01 55.25 M167.79 56.38 L168.25 56.58 L168.73 56.77 L169.20 56.97 L169.67 57.17 L170.15 57.37 L170.62 57.57 L171.10 57.78 L171.11 57.78 M173.86 58.97 L173.94 59.01 L174.41 59.21 L174.89 59.42 L175.36 59.63 L175.83 59.84 L176.31 60.05 L176.78 60.26 L177.15 60.43 M179.88 61.66 L180.10 61.76 L180.57 61.98 L181.05 62.20 L181.52 62.42 L182.00 62.64 L182.47 62.86 L182.94 63.08 L183.15 63.18 M185.86 64.46 L186.26 64.66 L186.73 64.88 L187.21 65.11 L187.68 65.35 L188.16 65.58 L188.63 65.81 L189.10 66.04 M191.78 67.39 L191.95 67.47 L192.42 67.71 L192.90 67.96 L193.37 68.20 L193.84 68.44 L194.32 68.69 L194.79 68.94 L194.98 69.03 M197.63 70.44 L197.63 70.44 L198.11 70.69 L198.58 70.95 L199.06 71.20 L199.53 71.46 L200.00 71.72 L200.48 71.98 L200.80 72.15 M203.42 73.61 L203.79 73.83 L204.27 74.10 L204.74 74.37 L205.22 74.64 L205.69 74.91 L206.16 75.18 L206.54 75.40 M209.12 76.94 L209.48 77.16 L209.96 77.45 L210.43 77.75 L210.90 78.04 L211.38 78.34 L211.85 78.63 L212.17 78.84 M214.70 80.46 L215.17 80.77 L215.64 81.08 L216.12 81.39 L216.59 81.70 L217.06 82.02 L217.54 82.33 L217.70 82.44 M220.19 84.12 L220.38 84.26 L220.86 84.58 L221.33 84.91 L221.80 85.23 L222.28 85.56 L222.75 85.89 L223.15 86.17 M225.58 87.93 L225.59 87.93 L226.07 88.28 L226.54 88.63 L227.02 88.98 L227.49 89.34 L227.96 89.69 L228.44 90.05 L228.47 90.07 M230.86 91.89 L231.28 92.21 L231.76 92.57 L232.23 92.93 L232.70 93.30 L233.18 93.66 L233.65 94.02 L233.72 94.07 M236.11 95.89 L236.49 96.19 L236.97 96.55 L237.44 96.91 L237.92 97.27 L238.39 97.64 L238.86 98.00 L238.97 98.08 M241.34 99.91 L241.71 100.20 L242.18 100.56 L242.66 100.93 L243.13 101.30 L243.60 101.67 L244.08 102.04 L244.18 102.12 M246.55 103.97 L246.92 104.26 L247.39 104.63 L247.87 105.01 L248.34 105.38 L248.82 105.75 L249.29 106.13 L249.38 106.19 M251.73 108.06 L252.13 108.38 L252.61 108.76 L253.08 109.14 L253.56 109.53 L254.03 109.91 L254.50 110.29 L254.53 110.32 M256.86 112.20 L256.87 112.21 L257.35 112.59 L257.82 112.97 L258.29 113.35 L258.77 113.72 L259.24 114.10 L259.68 114.44 M262.06 116.27 L262.09 116.29 L262.56 116.65 L263.03 117.00 L263.51 117.36 L263.98 117.71 L264.45 118.06 L264.93 118.42 L264.94 118.43 M267.36 120.20 L267.77 120.51 L268.25 120.85 L268.72 121.20 L269.19 121.55 L269.67 121.89 L270.14 122.24 L270.27 122.33 M272.68 124.11 L272.99 124.33 L273.46 124.69 L273.93 125.04 L274.41 125.39 L274.88 125.75 L275.35 126.11 L275.56 126.27 M277.94 128.09 L278.20 128.29 L278.67 128.66 L279.15 129.03 L279.62 129.40 L280.09 129.77 L280.57 130.14 L280.78 130.31 M283.14 132.17 L283.41 132.38 L283.88 132.76 L284.36 133.13 L284.83 133.51 L285.31 133.88 L285.78 134.26 L285.96 134.40 M288.32 136.25 L288.62 136.49 L289.10 136.86 L289.57 137.22 L290.05 137.59 L290.52 137.96 L290.99 138.33 L291.16 138.46 M293.52 140.31 L293.84 140.56 L294.31 140.93 L294.78 141.30 L295.26 141.68 L295.73 142.05 L296.21 142.43 L296.35 142.54 M298.71 144.40 L299.05 144.66 L299.52 145.04 L300.00 145.41 L300.47 145.78 L300.95 146.15 L301.42 146.51 L301.55 146.61 M303.92 148.44 L304.26 148.70 L304.74 149.06 L305.21 149.41 L305.68 149.77 L306.16 150.12 L306.63 150.47 L306.80 150.60 M309.23 152.36 L309.48 152.53 L309.95 152.87 L310.42 153.20 L310.90 153.53 L311.37 153.86 L311.85 154.18 L312.19 154.42 M314.67 156.11 L314.69 156.12 L315.16 156.44 L315.64 156.76 L316.11 157.08 L316.58 157.40 L317.06 157.71 L317.53 158.03 L317.66 158.11 M320.17 159.75 L320.38 159.88 L320.85 160.18 L321.32 160.48 L321.80 160.78 L322.27 161.08 L322.75 161.37 L323.22 161.66 M325.79 163.21 L326.06 163.38 L326.54 163.65 L327.01 163.93 L327.48 164.20 L327.96 164.47 L328.43 164.74 L328.91 165.00 L328.91 165.00 M331.56 166.42 L331.75 166.52 L332.22 166.76 L332.70 167.00 L333.17 167.24 L333.64 167.47 L334.12 167.70 L334.59 167.93 L334.78 168.02 M337.49 169.30 L337.91 169.49 L338.38 169.71 L338.86 169.93 L339.33 170.14 L339.81 170.36 L340.28 170.58 L340.75 170.79 L340.77 170.80 M343.49 172.06 L343.60 172.10 L344.07 172.33 L344.54 172.55 L345.02 172.77 L345.49 173.00 L345.97 173.22 L346.44 173.44 L346.75 173.59 M349.46 174.87 L349.76 175.01 L350.23 175.23 L350.71 175.45 L351.18 175.68 L351.65 175.90 L352.13 176.11 L352.60 176.33 L352.72 176.39 M355.46 177.62 L355.92 177.82 L356.39 178.03 L356.87 178.23 L357.34 178.43 L357.81 178.63 L358.29 178.83 L358.76 179.04 L358.77 179.04 M361.53 180.21 L361.61 180.25 L362.08 180.45 L362.55 180.65 L363.03 180.84 L363.50 181.04 L363.97 181.23 L364.45 181.43 L364.86 181.59 M367.65 182.67 L367.77 182.71 L368.24 182.88 L368.71 183.05 L369.19 183.22 L369.66 183.38 L370.14 183.53 L370.61 183.69 L371.06 183.83 M373.94 184.67 L374.40 184.80 L374.87 184.93 L375.35 185.06 L375.82 185.18 L376.30 185.31 L376.77 185.43 L377.24 185.55 L377.42 185.60 M380.34 186.30 L380.56 186.36 L381.04 186.47 L381.51 186.57 L381.98 186.68 L382.46 186.78 L382.93 186.89 L383.40 186.99 L383.85 187.08 M386.79 187.68 L387.20 187.75 L387.67 187.84 L388.14 187.93 L388.62 188.02 L389.09 188.11 L389.57 188.19 L390.04 188.28 L390.33 188.33 M393.29 188.81 L393.36 188.82 L393.83 188.90 L394.30 188.97 L394.78 189.04 L395.25 189.11 L395.73 189.18 L396.20 189.24 L396.67 189.31 L396.85 189.33 M399.83 189.73 L399.99 189.76 L400.47 189.82 L400.94 189.88 L401.41 189.94 L401.89 190.00 L402.36 190.06 L402.84 190.12 L403.31 190.18 L403.40 190.19 M406.38 190.56 L406.63 190.58 L407.10 190.64 L407.57 190.69 L408.05 190.75 L408.52 190.80 L409.00 190.85 L409.47 190.90 L409.94 190.96 L409.95 190.96 M412.94 191.26 L413.26 191.29 L413.73 191.33 L414.21 191.38 L414.68 191.42 L415.16 191.46 L415.63 191.50 L416.10 191.54 L416.52 191.58" stroke="#e69f00" stroke-width="1.4" fill="none"/>
<path d="M366.70 26.35 L367.46 26.35 L367.85 26.35 M369.05 26.35 L369.72 26.35 L370.20 26.35 M371.40 26.35 L371.99 26.35 L372.55 26.35 M373.75 26.35 L374.25 26.35 L374.90 26.35 M376.10 26.35 L376.52 26.35 L377.25 26.35 M378.45 26.35 L378.78 26.35 L379.54 26.35 L379.60 26.35 M380.80 26.35 L381.05 26.35 L381.80 26.35 L381.95 26.35 M383.15 26.35 L383.31 26.35 L384.07 26.35 L384.30 26.35 M385.50 26.35 L385.58 26.35 L386.33 26.35 L386.65 26.35 M387.85 26.35 L388.60 26.35 L389.00 26.35 M390.20 26.35 L390.86 26.35 L391.35 26.35 M392.55 26.35 L393.13 26.35 L393.70 26.35 M394.90 26.35 L395.39 26.35 L396.05 26.35 M397.25 26.35 L397.66 26.35 L398.40 26.35 M399.60 26.35 L399.92 26.35 L400.68 26.35 L400.75 26.35 M401.95 26.35 L402.19 26.35 L402.94 26.35 L403.10 26.35" stroke="#9400d3" stroke-width="1.4" fill="none"/>
<path d="M366.7 44.45H403.7" stroke="#009e73" stroke-width="1.4" fill="none"/>
<path d="M366.70 62.75 L367.46 62.75 L368.21 62.75 L368.97 62.75 L369.72 62.75 L370.40 62.75 M373.40 62.75 L373.50 62.75 L374.25 62.75 L374.30 62.75 M375.60 62.75 L375.76 62.75 L376.52 62.75 L377.27 62.75 L378.03 62.75 L378.78 62.75 L379.30 62.75 M382.30 62.75 L382.56 62.75 L383.20 62.75 M384.50 62.75 L384.82 62.75 L385.58 62.75 L386.33 62.75 L387.09 62.75 L387.84 62.75 L388.20 62.75 M391.20 62.75 L391.62 62.75 L392.10 62.75 M393.40 62.75 L393.88 62.75 L394.64 62.75 L395.39 62.75 L396.15 62.75 L396.90 62.75 L397.10 62.75 M400.10 62.75 L400.68 62.75 L401.00 62.75 M402.30 62.75 L402.94 62.75 L403.70 62.75" stroke="#56b4e9" stroke-width="1.4" fill="none"/>
<path d="M366.70 80.85 L367.46 80.85 L368.21 80.85 L368.97 80.85 L369.72 80.85 L370.40 80.85 M373.37 80.85 L373.50 80.85 L374.25 80.85 L375.01 80.85 L375.76 80.85 L376.52 80.85 L377.07 80.85 M380.04 80.85 L380.29 80.85 L381.05 80.85 L381.80 80.85 L382.56 80.85 L383.31 80.85 L383.74 80.85 M386.71 80.85 L387.09 80.85 L387.84 80.85 L388.60 80.85 L389.35 80.85 L390.11 80.85 L390.41 80.85 M393.38 80.85 L393.88 80.85 L394.64 80.85 L395.39 80.85 L396.15 80.85 L396.90 80.85 L397.08 80.85 M400.05 80.85 L400.68 80.85 L401.43 80.85 L402.19 80.85 L402.94 80.85 L403.70 80.85" stroke="#e69f00" stroke-width="1.4" fill="none"/>
<rect x="39.35" y="13.0" width="378.65" height="195.35" fill="none" stroke="#1a1a1a" stroke-width="1.1"/>
<g style="filter:grayscale(1)">
<text transform="translate(32.6,213.90) scale(0.965,1.03)" text-anchor="end" font-family="Liberation Serif, serif" font-size="16" fill="#000">0</text>
<text transform="translate(32.6,189.48) scale(0.965,1.03)" text-anchor="end" font-family="Liberation Serif, serif" font-size="16" fill="#000">1</text>
<text transform="translate(32.6,165.06) scale(0.965,1.03)" text-anchor="end" font-family="Liberation Serif, serif" font-size="16" fill="#000">2</text>
<text transform="translate(32.6,140.64) scale(0.965,1.03)" text-anchor="end" font-family="Liberation Serif, serif" font-size="16" fill="#000">3</text>
<text transform="translate(32.6,116.22) scale(0.965,1.03)" text-anchor="end" font-family="Liberation Serif, serif" font-size="16" fill="#000">4</text>
<text transform="translate(32.6,91.81) scale(0.965,1.03)" text-anchor="end" font-family="Liberation Serif, serif" font-size="16" fill="#000">5</text>
<text transform="translate(32.6,67.39) scale(0.965,1.03)" text-anchor="end" font-family="Liberation Serif, serif" font-size="16" fill="#000">6</text>
<text transform="translate(32.6,42.97) scale(0.965,1.03)" text-anchor="end" font-family="Liberation Serif, serif" font-size="16" fill="#000">7</text>
<text transform="translate(32.6,18.55) scale(0.965,1.03)" text-anchor="end" font-family="Liberation Serif, serif" font-size="16" fill="#000">8</text>
<text transform="translate(39.55,229.2) scale(0.965,1.03)" text-anchor="middle" font-family="Liberation Serif, serif" font-size="16" fill="#000">10<tspan font-size="12.6" dy="-6.0">-3</tspan></text>
<text transform="translate(134.21,229.2) scale(0.965,1.03)" text-anchor="middle" font-family="Liberation Serif, serif" font-size="16" fill="#000">10<tspan font-size="12.6" dy="-6.0">-2</tspan></text>
<text transform="translate(228.87,229.2) scale(0.965,1.03)" text-anchor="middle" font-family="Liberation Serif, serif" font-size="16" fill="#000">10<tspan font-size="12.6" dy="-6.0">-1</tspan></text>
<text transform="translate(323.54,229.2) scale(0.965,1.03)" text-anchor="middle" font-family="Liberation Serif, serif" font-size="16" fill="#000">10<tspan font-size="12.6" dy="-6.0">0</tspan></text>
<text transform="translate(418.20,229.2) scale(0.965,1.03)" text-anchor="middle" font-family="Liberation Serif, serif" font-size="16" fill="#000">10<tspan font-size="12.6" dy="-6.0">1</tspan></text>
<text transform="translate(228.88,251.4) scale(0.965,1.03)" text-anchor="middle" font-family="Liberation Serif, serif" font-size="16" fill="#000">T<tspan font-size="12.8" dy="3.9">9</tspan></text>
<text transform="translate(19.3,110.77) rotate(-90) scale(1,1.04)" text-anchor="middle" letter-spacing="0.057" font-family="Liberation Serif, serif" font-size="16" fill="#000">Reaction rate [10<tspan font-size="12.8" dy="-7.0">9</tspan><tspan dy="7.0"> cm</tspan><tspan font-size="12.8" dy="-7.0">3</tspan><tspan dy="7.0">/mol/s]</tspan></text>
<text transform="translate(358.0,32.85) scale(1,1.04)" text-anchor="end" font-family="Liberation Serif, serif" font-size="16" fill="#000"><tspan font-family="Liberation Sans, sans-serif" font-size="16.6" stroke="#000" stroke-width="0.25">δ</tspan>m<tspan font-size="12.8" dy="3.8">q</tspan><tspan dy="-3.8">/m</tspan><tspan font-size="12.8" dy="3.8">q</tspan><tspan dy="-3.8">=0.01</tspan></text>
<text transform="translate(358.0,50.95) scale(1,1.04)" text-anchor="end" font-family="Liberation Serif, serif" font-size="16" fill="#000"><tspan font-family="Liberation Sans, sans-serif" font-size="16.6" stroke="#000" stroke-width="0.25">δ</tspan>m<tspan font-size="12.8" dy="3.8">q</tspan><tspan dy="-3.8">/m</tspan><tspan font-size="12.8" dy="3.8">q</tspan><tspan dy="-3.8">=0</tspan></text>
<text transform="translate(358.0,69.25) scale(1,1.04)" text-anchor="end" font-family="Liberation Serif, serif" font-size="16" fill="#000"><tspan font-family="Liberation Sans, sans-serif" font-size="16.6" stroke="#000" stroke-width="0.25">δ</tspan>m<tspan font-size="12.8" dy="3.8">q</tspan><tspan dy="-3.8">/m</tspan><tspan font-size="12.8" dy="3.8">q</tspan><tspan dy="-3.8">=-0.01</tspan></text>
<text transform="translate(358.0,87.35) scale(1,1.04)" text-anchor="end" font-family="Liberation Serif, serif" font-size="16" fill="#000"><tspan font-family="Liberation Sans, sans-serif" font-size="16.6" stroke="#000" stroke-width="0.25">δ</tspan>m<tspan font-size="12.8" dy="3.8">q</tspan><tspan dy="-3.8">/m</tspan><tspan font-size="12.8" dy="3.8">q</tspan><tspan dy="-3.8">=-0.02</tspan></text>
</g>
</svg>
</body></html>
